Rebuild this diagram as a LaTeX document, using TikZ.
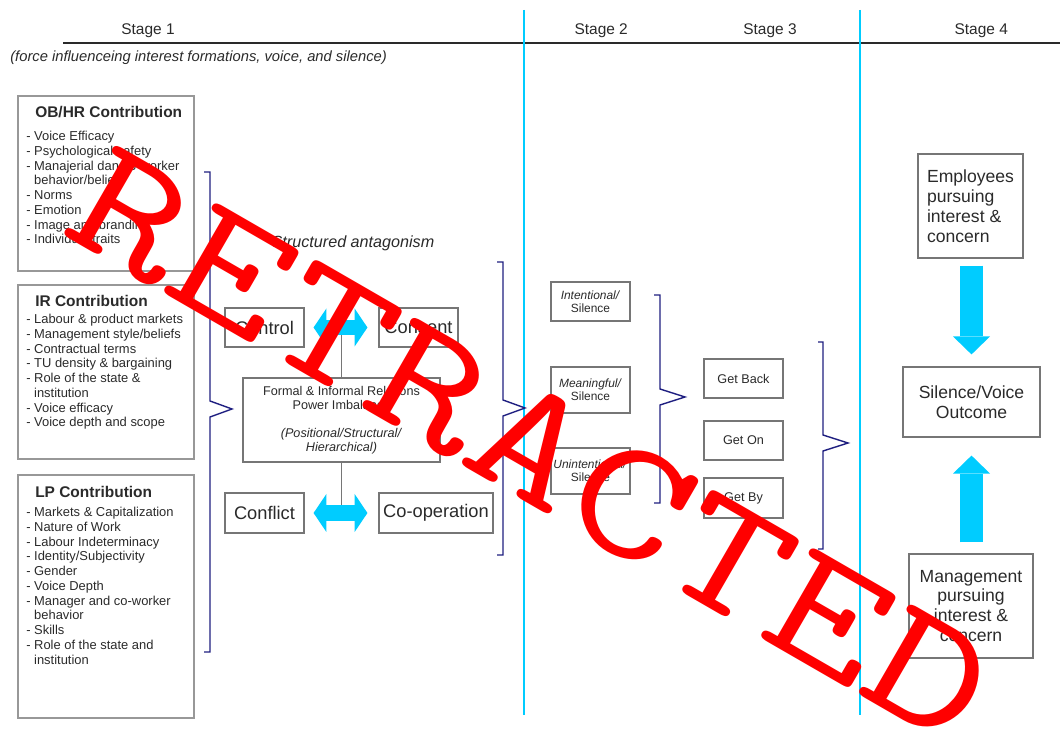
\documentclass[tikz,border=0pt]{standalone}
\usepackage{fontspec}
\setmainfont{Liberation Sans}
\usetikzlibrary{arrows.meta}
\definecolor{stagecyan}{HTML}{00CCFF}
\definecolor{bracenavy}{HTML}{1E1E80}
\definecolor{boxgray}{HTML}{767676}
\definecolor{inkgray}{HTML}{2A2A2A}

\begin{document}
\begin{tikzpicture}[scale=1.0,
		every node/.style={text=inkgray},
		cbox/.style={draw=boxgray!75, line width=1.2pt, minimum width=4.4cm, inner sep=0pt, anchor=north west},
		sbox/.style={draw=boxgray, line width=0.8pt, inner sep=0pt, align=center},
		brak/.style={draw=bracenavy, line width=1pt},
		stem/.style={draw=boxgray, line width=1.4pt},
		stageline/.style={draw=stagecyan, line width=1.8pt},
		dblarrow/.style={draw=stagecyan, line width=3.9mm, {Triangle[width=9.5mm,length=3.2mm,line width=0pt]}-{Triangle[width=9.5mm,length=3.2mm,line width=0pt]}},
		bigarrow/.style={draw=stagecyan, line width=5.75mm, -{Triangle[width=9.25mm,length=4.5mm,line width=0pt]}},
		stagetext/.style={font=\fontsize{11}{13}\selectfont},
		titletext/.style={font=\fontsize{11}{13}\selectfont\bfseries, anchor=west, inner sep=0pt},
		listtext/.style={font=\fontsize{9.2}{10.5}\selectfont, align=left, anchor=north west, inner sep=0pt},
		bigword/.style={font=\fontsize{13}{15}\selectfont},
		smallword/.style={font=\fontsize{8.5}{9.5}\selectfont},
		outword/.style={font=\fontsize{12.5}{14.2}\selectfont}]
				\useasboundingbox (0,0) rectangle (26.5,18.325);
				
				% stages
				\draw [line width=1.4pt, inkgray] (1.575,17.25) -- (26.5,17.25);
				\node [stagetext] (st1) at (3.7,17.55) {Stage 1};
				\node [stagetext] (st2) at (15.03,17.55) {Stage 2};
				\node [stagetext] (st3) at (19.25,17.55) {Stage 3};
				\node [stagetext] (st4) at (24.53,17.55) {Stage 4};
				\node [anchor=west, inner sep=0pt, font=\fontsize{10.5}{12}\selectfont\itshape] (sub) at (0.25,16.875) {(force influenceing interest formations, voice, and silence)};
				\draw [stageline] (13.1,18.075) -- (13.1,0.45);
				\draw [stageline] (21.5,18.075) -- (21.5,0.45);
				
				% stage 1 contributions
				\node [cbox, minimum height=4.375cm] (obhr) at (0.425,15.95) {};
				\node [titletext] (obhrtitle) at (0.875,15.525) {OB/HR Contribution};
				\node [listtext] (obhrlist) at (0.65,15.05) {- Voice Efficacy\\- Psychological safety\\- Manajerial dan co-worker\\\hphantom{- }behavior/beliefs\\- Norms\\- Emotion\\- Image and branding\\- Individual traits};
				\node [cbox, minimum height=4.35cm] (ir) at (0.425,11.225) {};
				\node [titletext] (irtitle) at (0.875,10.8) {IR Contribution};
				\node [listtext] (irlist) at (0.65,10.475) {- Labour \& product markets\\- Management style/beliefs\\- Contractual terms\\- TU density \& bargaining\\- Role of the state \&\\\hphantom{- }institution\\- Voice efficacy\\- Voice depth and scope};
				\node [cbox, minimum height=6.075cm] (lp) at (0.425,6.475) {};
				\node [titletext] (lptitle) at (0.875,6.025) {LP Contribution};
				\node [listtext] (lplist) at (0.65,5.65) {- Markets \& Capitalization\\- Nature of Work\\- Labour Indeterminacy\\- Identity/Subjectivity\\- Gender\\- Voice Depth\\- Manager and co-worker\\\hphantom{- }behavior\\- Skills\\- Role of the state and\\\hphantom{- }institution};
				\draw [brak] (5.1,14.025) -- (5.25,14.025) -- (5.25,8.3) -- (5.8,8.1) -- (5.25,7.9) -- (5.25,2.025) -- (5.1,2.025);
				
				% structured antagonism
				\node [font=\fontsize{11.5}{13}\selectfont\itshape] (antag) at (8.825,12.25) {Structured antagonism};
				\node [sbox, bigword, minimum width=1.975cm, minimum height=0.975cm] (control) at (6.6125,10.1375) {Control};
				\node [sbox, bigword, minimum width=1.975cm, minimum height=0.975cm] (consent) at (10.4625,10.1375) {Consent};
				\node [sbox, font=\fontsize{9}{10}\selectfont, minimum width=4.925cm, minimum height=2.1cm] (power) at (8.5375,7.825) {Formal \& Informal Relations\\Power Imbalance\\[10pt]\textit{(Positional/Structural/}\\\textit{Hierarchical)}};
				\node [sbox, bigword, minimum width=1.975cm, minimum height=1cm] (conflict) at (6.6125,5.5) {Conflict};
				\node [sbox, bigword, minimum width=2.85cm, minimum height=1cm] (coop) at (10.9,5.5) {Co-operation};
				\draw [stem] (power.north) -- (power.north |- control.center);
				\draw [stem] (power.south) -- (power.south |- conflict.center);
				\draw [dblarrow, shorten <=0.225cm, shorten >=0.275cm] (control) -- (consent);
				\draw [dblarrow, shorten <=0.225cm, shorten >=0.275cm] (conflict) -- (coop);
				\draw [brak] (12.425,11.775) -- (12.575,11.775) -- (12.575,8.325) -- (13.125,8.125) -- (12.575,7.925) -- (12.575,4.45) -- (12.425,4.45);
				
				% stage 2 and 3
				\node [sbox, smallword, minimum width=1.975cm, minimum height=0.975cm] (intent) at (14.7625,10.7875) {\textit{Intentional/}\\Silence};
				\node [sbox, smallword, minimum width=1.975cm, minimum height=1.15cm] (meaning) at (14.7625,8.575) {\textit{Meaningful/}\\Silence};
				\node [sbox, smallword, minimum width=1.975cm, minimum height=1.15cm] (unintent) at (14.7625,6.55) {\textit{Unintentional/}\\Silence};
				\draw [brak] (16.35,10.95) -- (16.5,10.95) -- (16.5,8.6) -- (17.125,8.4) -- (16.5,8.2) -- (16.5,5.75) -- (16.35,5.75);
				\node [sbox, font=\fontsize{9}{10}\selectfont, minimum width=1.975cm, minimum height=0.975cm] (getback) at (18.5875,8.8625) {Get Back};
				\node [sbox, font=\fontsize{9}{10}\selectfont, minimum width=1.975cm, minimum height=0.975cm] (geton) at (18.5875,7.3125) {Get On};
				\node [sbox, font=\fontsize{9}{10}\selectfont, minimum width=1.975cm, minimum height=1cm] (getby) at (18.5875,5.875) {Get By};
				\draw [brak] (20.45,9.775) -- (20.575,9.775) -- (20.575,7.45) -- (21.2,7.25) -- (20.575,7.05) -- (20.575,4.6) -- (20.45,4.6);
				
				% stage 4
				\node [sbox, outword, align=left, minimum width=2.625cm, minimum height=2.6cm] (employees) at (24.2625,13.175) {Employees\\pursuing\\interest \&\\concern};
				\node [sbox, outword, minimum width=3.425cm, minimum height=1.75cm] (outcome) at (24.2875,8.275) {Silence/Voice\\Outcome};
				\node [sbox, outword, minimum width=3.1cm, minimum height=2.6cm] (management) at (24.275,3.175) {Management\\pursuing\\interest \&\\concern};
				\draw [bigarrow, shorten <=0.175cm, shorten >=0.3cm] (outcome.north |- employees.south) -- (outcome.north);
				\draw [bigarrow, shorten <=0.275cm, shorten >=0.45cm] (outcome.south |- management.north) -- (outcome.south);
				
				\node [text=red, font=\fontsize{122}{122}\selectfont\ttfamily, inner sep=0pt, rotate=-30, xscale=1.3] (stamp) at (13.3,7.2) {RETRACTED};
\end{tikzpicture}
\end{document}
